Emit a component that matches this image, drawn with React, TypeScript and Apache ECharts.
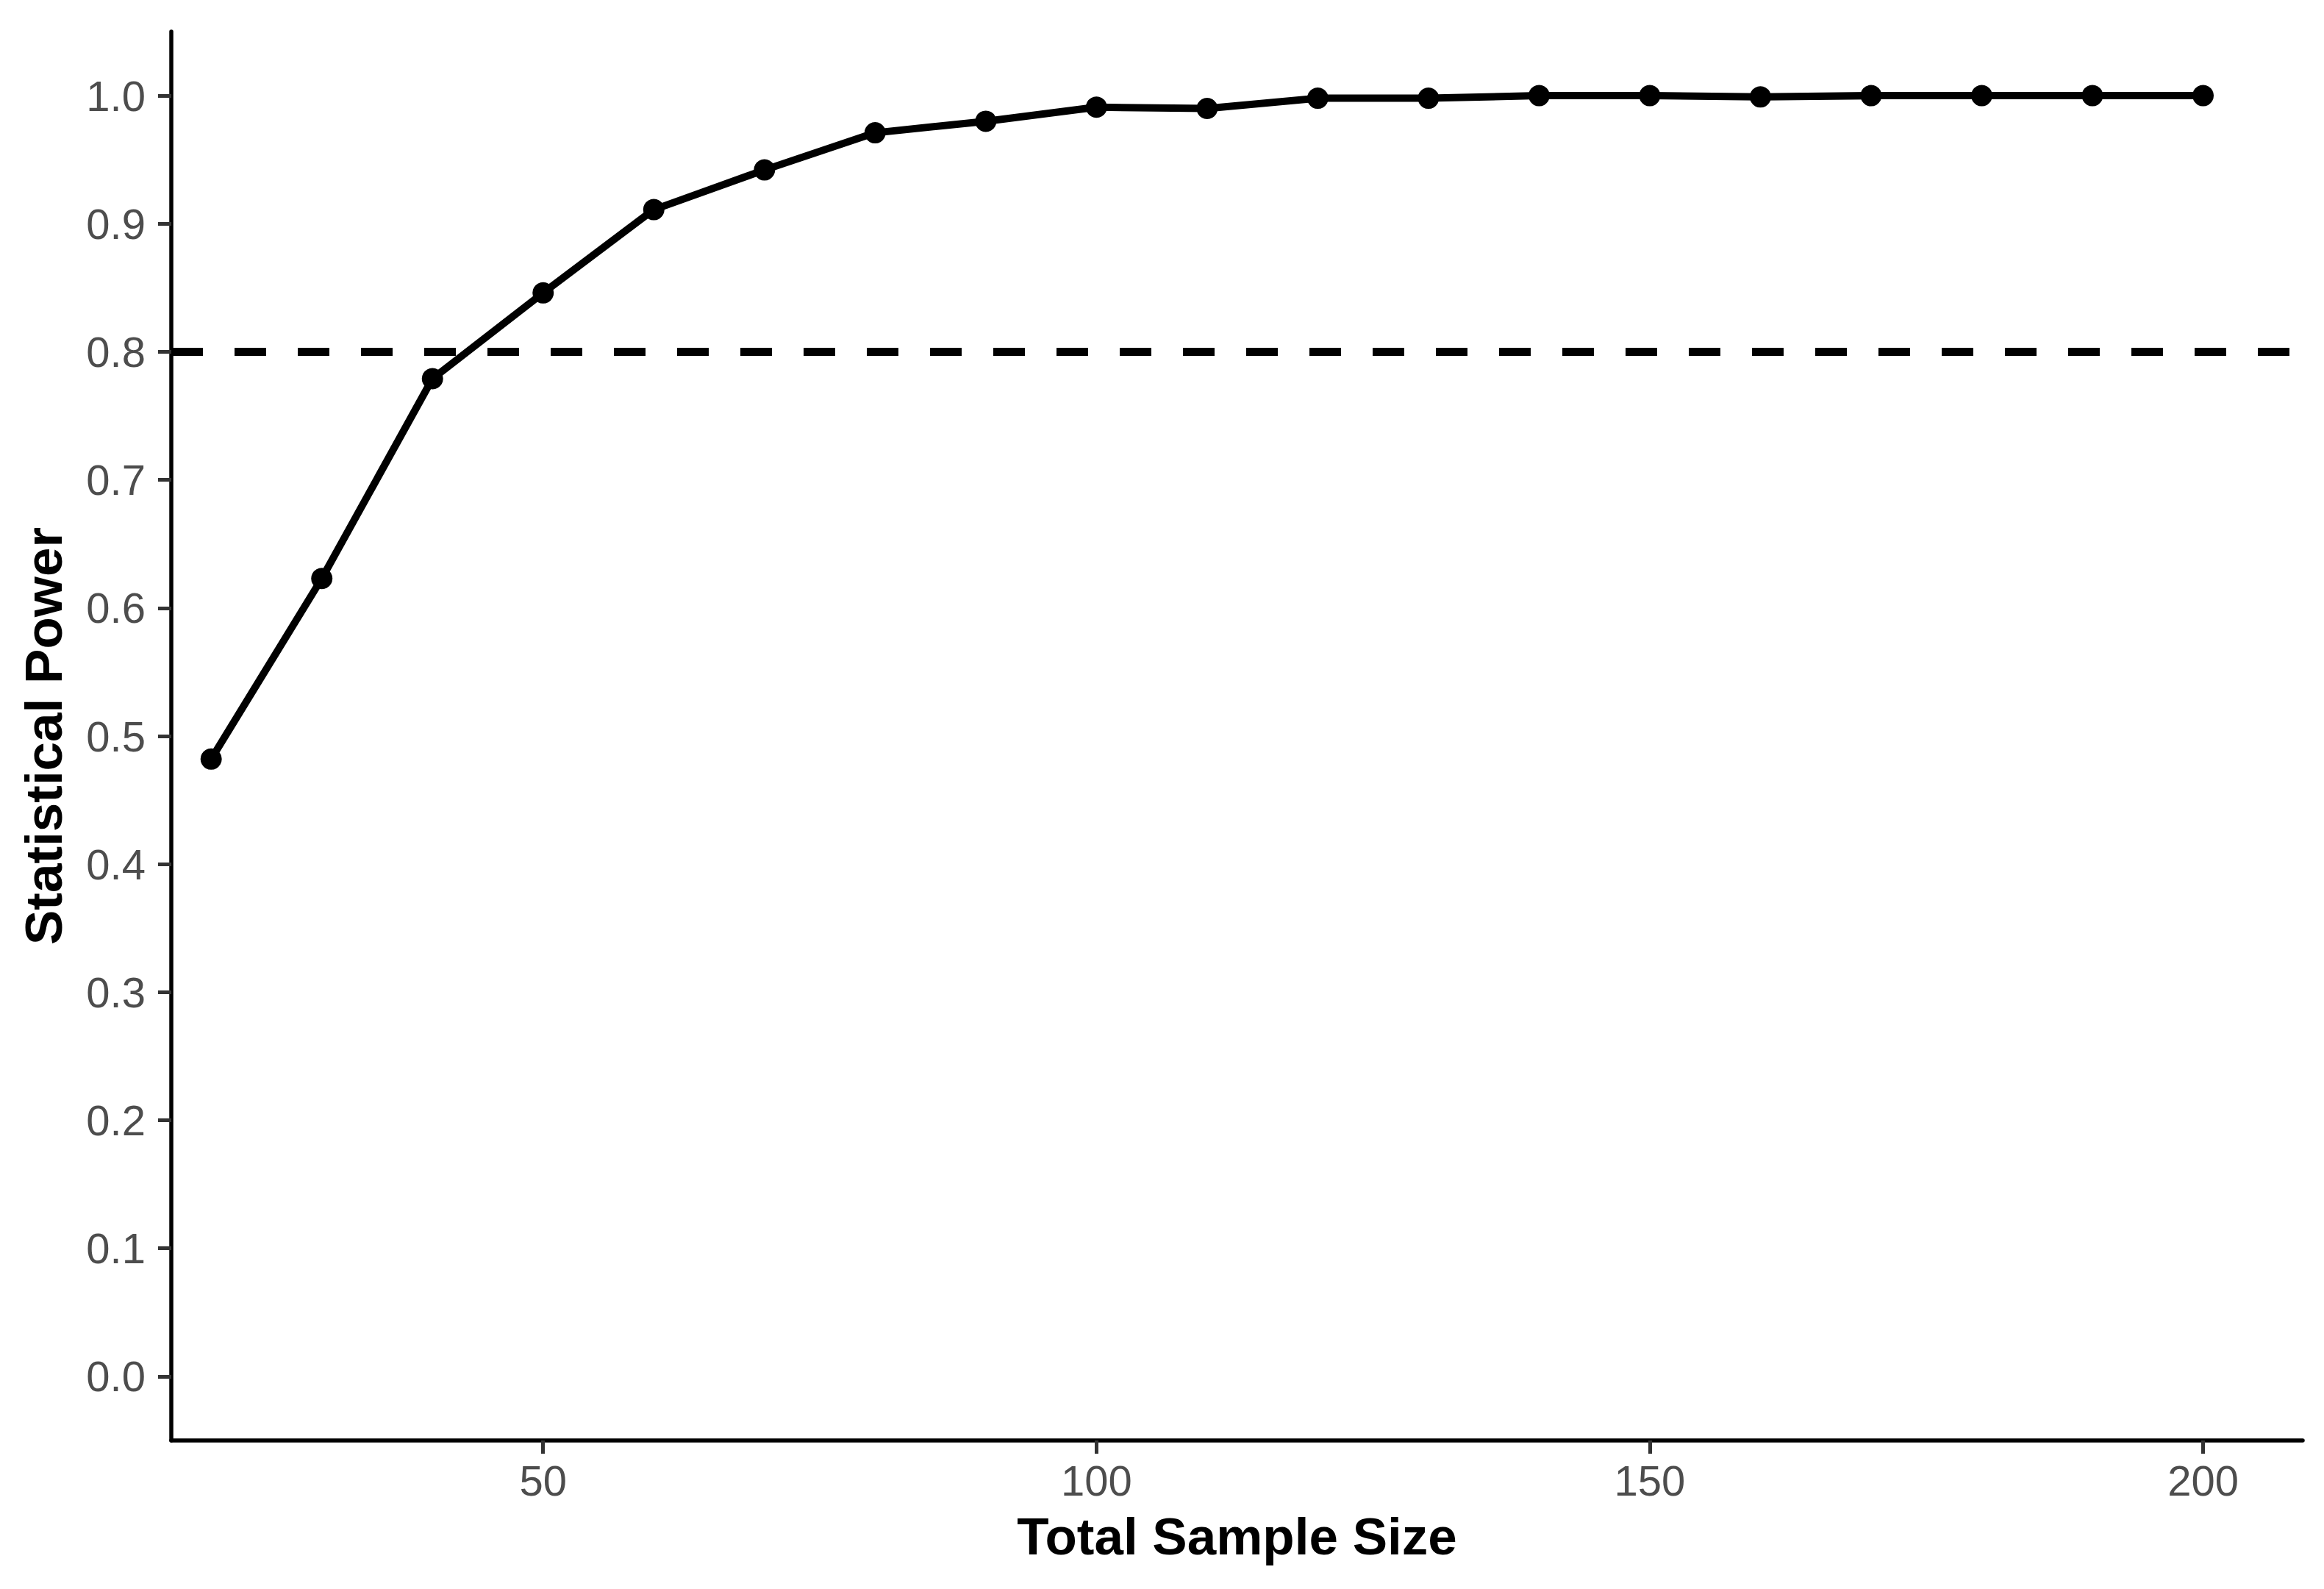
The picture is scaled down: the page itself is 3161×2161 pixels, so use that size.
import React, { useEffect, useRef } from "react";
import * as echarts from "echarts";

const sampleSizes = [20, 30, 40, 50, 60, 70, 80, 90, 100, 110, 120, 130, 140, 150, 160, 170, 180, 190, 200];
const power = [0.482, 0.623, 0.779, 0.846, 0.911, 0.942, 0.971, 0.980, 0.991, 0.990, 0.998, 0.998, 1.0, 1.0, 0.999, 1.0, 1.0, 1.0, 1.0];
const threshold = 0.8;
const xTicks = [50, 100, 150, 200];
const yTicks = [0, 0.1, 0.2, 0.3, 0.4, 0.5, 0.6, 0.7, 0.8, 0.9, 1.0];
const xTitle = "Total Sample Size";
const yTitle = "Statistical Power";

const FONT = "'Liberation Sans', Arial, sans-serif";

export default function App() {
  const ref = useRef<HTMLDivElement>(null);
  useEffect(() => {
    if (!ref.current) return;
    const chart = echarts.init(ref.current, null, { renderer: "svg" });
    chart.setOption({
      animation: false,
      backgroundColor: "#ffffff",
      grid: { left: 233, right: 29, top: 43, bottom: 202, containLabel: false },
      xAxis: {
        type: "value",
        min: 16.4,
        max: 209,
        name: xTitle,
        nameLocation: "middle",
        nameGap: 95,
        nameTextStyle: { fontFamily: FONT, fontSize: 71, fontWeight: "bold", color: "#000000" },
        axisLine: { show: true, onZero: false, lineStyle: { color: "#000000", width: 5.5 } },
        axisTick: { show: true, customValues: xTicks, length: 18, lineStyle: { color: "#333333", width: 5 } },
        axisLabel: { customValues: xTicks, margin: 25, fontFamily: FONT, fontSize: 58, color: "#4D4D4D" },
        splitLine: { show: false },
      },
      yAxis: {
        type: "value",
        min: -0.05,
        max: 1.05,
        name: yTitle,
        nameLocation: "middle",
        nameRotate: 90,
        nameGap: 138,
        nameTextStyle: { fontFamily: FONT, fontSize: 71, fontWeight: "bold", color: "#000000" },
        axisLine: { show: true, onZero: false, lineStyle: { color: "#000000", width: 5.5 } },
        axisTick: { show: true, customValues: yTicks, length: 18, lineStyle: { color: "#333333", width: 5 } },
        axisLabel: {
          customValues: yTicks,
          margin: 35,
          fontFamily: FONT,
          fontSize: 58,
          color: "#4D4D4D",
          formatter: (v: number) => v.toFixed(1),
        },
        splitLine: { show: false },
      },
      series: [
        {
          type: "line",
          data: sampleSizes.map((x, i) => [x, power[i]]),
          symbol: "circle",
          symbolSize: 29,
          showSymbol: true,
          lineStyle: { color: "#000000", width: 10 },
          itemStyle: { color: "#000000" },
          markLine: {
            silent: true,
            symbol: ["none", "none"],
            label: { show: false },
            lineStyle: { color: "#000000", width: 11, type: [43, 43] },
            data: [{ yAxis: threshold }],
          },
        },
      ],
    });
    return () => chart.dispose();
  }, []);
  return (
    <div
      ref={ref}
      style={{ position: "fixed", left: 0, top: 0, width: 3161, height: 2161, background: "#fff" }}
    />
  );
}
